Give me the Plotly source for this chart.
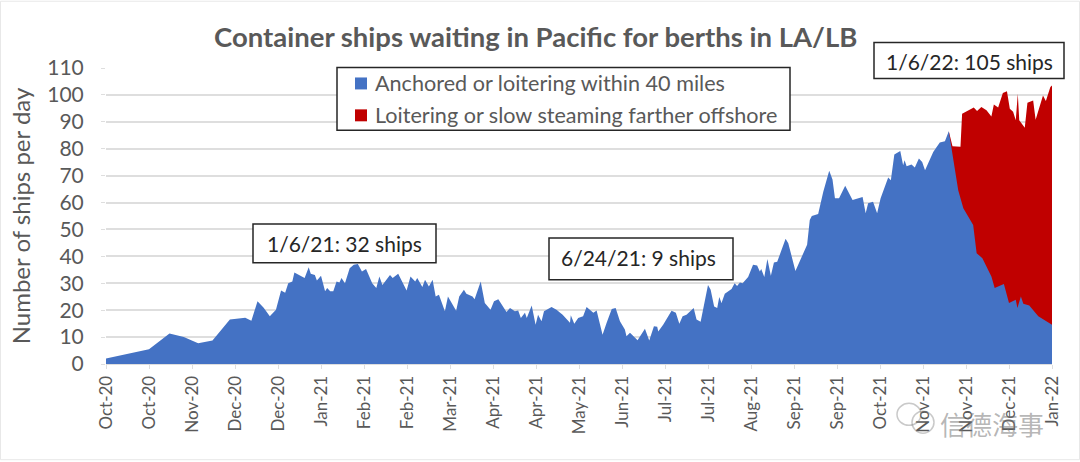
import pandas as pd
import plotly.graph_objects as go

# days counted from the first date on the axis
START = pd.Timestamp("2020-10-01")
TICK_DAYS = 21

anchored_days = [
    0, 21, 31, 38, 45, 52, 60.5, 68, 71, 74, 77, 80, 83, 85.5, 87.5, 89, 91, 92,
    97, 99, 100, 102, 103, 105, 107, 108, 109.5, 111, 112.6, 114, 115, 116.7, 119, 121, 123, 125, 127,
    130, 132, 133.5, 135, 137, 138.7, 140, 142.7, 146.8, 148.7, 151, 152, 154.5, 155.8, 157.7, 159.5,
    161, 162.6, 165.5, 167, 171, 172.5, 174.8, 176, 179, 180, 183, 185, 187.8, 189.5, 191.6, 194.3,
    195.6, 197.3, 199.7, 201.3, 202.6, 204.6, 205.5, 207.9, 209.8, 211, 212.7, 213.9, 217.6, 220, 223,
    226.6, 227, 228.7, 230.6, 233, 234.7, 236.3, 238, 239.6, 242.5, 244.5, 247, 248.9, 251, 253.4,
    254.2, 255.9, 259.6, 263.2, 265.3, 267.6, 269.2, 269.7, 272.1, 276.2, 278.3, 280, 281.6, 283.5,
    287, 288.4, 290.4, 294, 295.3, 297, 298.5, 299.5, 300.6, 302.2, 305.5, 307, 308.2, 309.6, 310.9,
    313.6, 316, 318, 319.3, 320, 321.5, 323, 324.7, 326.2, 327.8, 331.9, 333.2, 336.7, 341.3, 342.4,
    343.7, 344.7, 347.8, 350.3, 353.2, 354.8, 356, 358, 361, 364.6, 369.5, 371, 372.2, 374.6, 376.6,
    378.3, 382, 383.3, 385, 387.9, 389.3, 390, 391, 393.4, 395, 397, 398.6, 400, 404, 407.2, 409.7,
    411.6, 416.2, 418.7, 423.5, 425.2, 428, 432.4, 434, 438.5, 441, 444.3, 445.1, 446.8, 448, 450.9,
    455.3, 458.5, 461.3, 462,
]
anchored = [
    2, 5.5, 11.3, 10, 7.7, 8.7, 16.5, 17.2, 16.1, 23.3, 20.9, 17.7, 20.2, 27.3, 26.5, 30, 30.7, 34,
    32, 36, 33.5, 33.1, 31, 32.8, 27, 28.2, 27, 27, 30.7, 30.3, 32, 30, 35.6, 36.9, 37.2, 34.4, 35.3,
    30, 28.2, 32.5, 29.4, 31.3, 33.1, 32, 33.5, 27.3, 32.5, 30.7, 32, 28.6, 31.3, 28.8, 31.3,
    25.1, 25.7, 19.6, 25.1, 19.8, 25.1, 27.6, 26.1, 25.1, 24.1, 30.7, 22.7, 20.2, 23.3, 24.1, 20.8,
    19.3, 20.8, 19.6, 19.9, 17.1, 19, 17.1, 21.7, 14.6, 18.3, 15.9, 19.6, 21.2, 20.2, 18.3,
    15.3, 18.1, 15, 17.1, 17.7, 21.2, 20.2, 19, 19.9, 10.9, 15.3, 20.4, 20.8, 15.9, 12.8,
    10.3, 11.6, 8.8, 13.1, 8.7, 14, 13.8, 12.1, 14.6, 19.8, 19, 15, 17.7, 18.3,
    20.8, 16.5, 15.7, 29.4, 27.6, 21.4, 20.8, 24.9, 22.7, 26.1, 27.9, 30, 29, 30.3, 30,
    32.3, 36.9, 36.6, 34.4, 35.3, 32.3, 39, 32.8, 37.7, 38, 46.5, 44.9, 34.6, 43, 44.3,
    53.5, 55, 55.7, 64, 71.8, 68.6, 61.6, 61.6, 66.2, 60.9, 62.1, 56, 59.7, 60.3, 56,
    61.6, 69.3, 68.3, 77.9, 79.2, 73.9, 75.7, 73.5, 74.1, 73, 76.4, 75.1, 72, 78.8, 82.3, 82.8,
    86.5, 64.6, 57.9, 51.7, 41.2, 39.3, 32.5, 28.2, 29.7, 22.7, 23.9, 20.8, 25.1, 22.4, 21.7,
    17.7, 16.2, 15, 14.6,
]

# top edge of the red area, i.e. both groups together
total_days = [
    411.6, 413.4, 417.3, 418.1, 423.8, 425.4, 427.5, 430, 432.4, 433.6, 435.7, 438, 440, 441.4, 443,
    444.3, 445.3, 446, 448.7, 450, 452.8, 454, 457.6, 459, 461.2, 462,
]
total = [
    86.5, 80.9, 80.7, 93, 95.3, 94, 95.5, 94.3, 92, 96.4, 95.3, 100.7, 101.4, 94.9, 93.7,
    90.6, 100.4, 90.6, 87.8, 97.1, 97.9, 90.8, 99.8, 97.7, 102.9, 103.5,
]

GREY = "#595959"
DARK = "#262626"
BLUE = "#4472C4"
RED = "#C00000"
GRID = "#DEDEDE"
FONT = "Lato"

# plot area in page pixels
LEFT, RIGHT, TOP, BOTTOM = 106, 1052, 67.5, 364.5


def xp(px):
    return (px - LEFT) / (RIGHT - LEFT)


def yp(py):
    return (BOTTOM - py) / (BOTTOM - TOP)


def to_dates(days):
    return START + pd.to_timedelta(days, unit="D")


fig = go.Figure()
fig.add_trace(go.Scatter(x=to_dates(total_days), y=total, mode="lines", line=dict(width=0),
                         fill="tozeroy", fillcolor=RED, name="Loitering or slow steaming farther offshore"))
fig.add_trace(go.Scatter(x=to_dates(anchored_days), y=anchored, mode="lines", line=dict(width=0),
                         fill="tozeroy", fillcolor=BLUE, name="Anchored or loitering within 40 miles"))

shapes = []
annotations = []


def add_box(x0, x1, y0, y1):
    shapes.append(dict(type="rect", xref="paper", yref="paper", x0=xp(x0), x1=xp(x1), y0=yp(y1), y1=yp(y0),
                       fillcolor="white", line=dict(color="#262626", width=1.5), layer="above"))


def add_text(text, x, y, size=21, color=DARK, anchor="center", family=FONT):
    annotations.append(dict(text=text, xref="paper", yref="paper", x=xp(x), y=yp(y), xanchor=anchor,
                            yanchor="middle", showarrow=False, font=dict(family=family, size=size, color=color)))


# faint frame of the picture
shapes.append(dict(type="rect", xref="paper", yref="paper", x0=xp(0.5), x1=xp(1079.5), y0=yp(460.5), y1=yp(0.5),
                   line=dict(color="#E8E8E8", width=1), layer="below"))

# call-outs
add_box(253, 436, 224, 263)
add_text("1/6/21: 32 ships", 344, 244)
add_box(549, 733, 238, 280)
add_text("6/24/21: 9 ships", 638, 258)
add_box(874, 1064, 42, 78)
add_text("1/6/22: 105 ships", 969, 61)

# legend box, drawn by hand to get the small swatches
add_box(337, 790, 67, 130)
for colour, py in [(BLUE, 83), (RED, 115)]:
    shapes.append(dict(type="rect", xref="paper", yref="paper", x0=xp(355), x1=xp(367), y0=yp(py + 6), y1=yp(py - 6),
                       fillcolor=colour, line=dict(width=0), layer="above"))
add_text("Anchored or loitering within 40 miles", 373, 83, size=21.6, color=GREY, anchor="left")
add_text("Loitering or slow steaming farther offshore", 373, 115, size=21.6, color=GREY, anchor="left")

add_text("<b>Container ships waiting in Pacific for berths in LA/LB</b>", 535, 36, size=27.5, color=GREY)

# watermark in the lower right corner
for x0, x1, y0, y1 in [(897, 921, 404, 426), (912, 934, 412, 434)]:
    shapes.append(dict(type="circle", xref="paper", yref="paper", x0=xp(x0), x1=xp(x1), y0=yp(y1), y1=yp(y0),
                       line=dict(color="rgba(120,120,120,0.4)", width=1.5), layer="above"))
add_text("信德海事", 992, 424, size=26, color="rgba(120,120,120,0.55)", family="Noto Sans CJK SC")

fig.update_layout(
    width=1080, height=462, autosize=False,
    margin=dict(l=LEFT, r=1080 - RIGHT, t=TOP, b=462 - BOTTOM),
    paper_bgcolor="white", plot_bgcolor="white",
    font=dict(family=FONT, color=GREY),
    showlegend=False,
    shapes=shapes, annotations=annotations,
)
fig.update_xaxes(
    type="date",
    range=[START, START + pd.Timedelta(days=462)],
    tick0=START, dtick=TICK_DAYS * 86400000, tickformat="%b-%y", tickangle=-90,
    tickfont=dict(size=17, color=GREY),
    ticks="outside", ticklen=4, tickcolor=GRID,
    showgrid=False, showline=True, linecolor=GRID, linewidth=1,
)
fig.update_yaxes(
    range=[0, 110], tick0=0, dtick=10,
    tickfont=dict(size=21, color=GREY),
    ticks="outside", ticklen=4, tickcolor=GRID, ticklabelstandoff=13,
    showgrid=True, gridcolor=GRID, gridwidth=1.5, zeroline=False,
    title=dict(text="Number of ships per day", font=dict(size=24, color=GREY), standoff=9),
)

# drop the browser's default body margin so the page lines up with the window
fig.write_html("out.html", config={"displayModeBar": False}, post_script="document.body.style.margin='0';")
